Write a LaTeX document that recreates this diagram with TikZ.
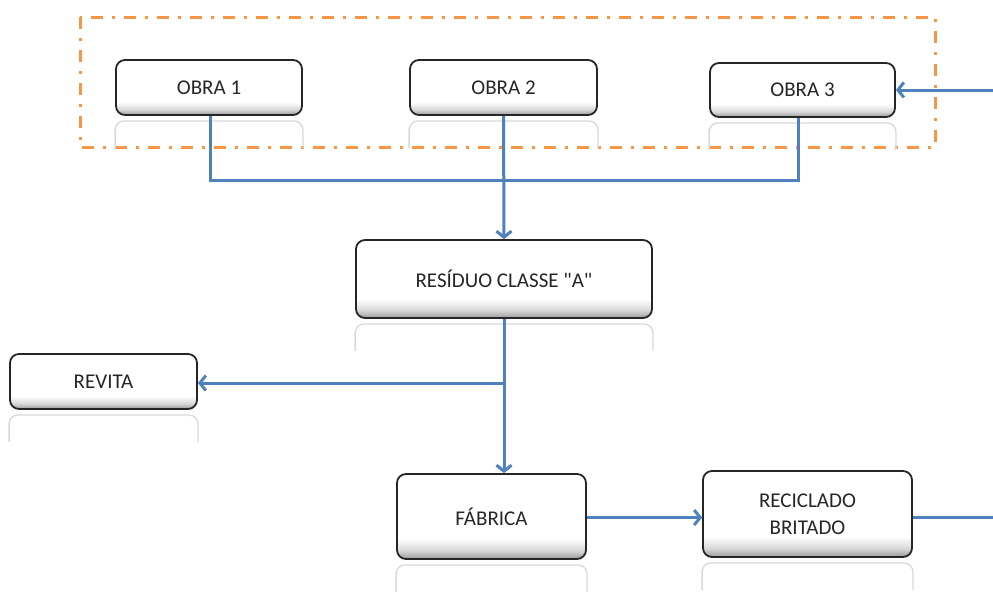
\documentclass[tikz,border=0pt]{standalone}
\usepackage{fontspec}
\setmainfont{Carlito}[Ligatures=TeXOff]
\usetikzlibrary{arrows.meta,calc}
\definecolor{lineblue}{HTML}{4F81BD}
\definecolor{dashorange}{HTML}{F79646}
\pgfdeclareverticalshading{boxshade}{100bp}{color(0bp)=(black!40); color(25bp)=(black!40); color(30bp)=(black!15); color(37bp)=(white); color(100bp)=(white)}
\tikzset{
  box/.style={draw=black!85, line width=1.8pt, rounded corners=9pt,
    shading=boxshade,
    align=center, font=\fontsize{21}{25}\selectfont, text=black!85,
    inner sep=0pt},
  conn/.style={draw=lineblue, line width=3pt},
  arr/.style={conn, -{Straight Barb[length=6pt,width=15pt]}},
  refl/.style={draw=black!15, line width=1.3pt},
  grp/.style={draw=dashorange, line width=3pt, dash pattern=on 12pt off 9pt on 3pt off 9pt}
}
\newcommand{\reflect}[1]{%
  \draw[refl] ($(#1.south west)+(0,32)$) -- ($(#1.south west)+(0,14)$)
    arc[start angle=180,end angle=270,radius=9] -- ($(#1.south east)+(-9,5)$)
    arc[start angle=270,end angle=360,radius=9] -- ($(#1.south east)+(0,32)$);}
\begin{document}
\begin{tikzpicture}[x=1pt,y=-1pt]
\useasboundingbox (0,0) rectangle (993,605);
\fill[white] (0,0) rectangle (993,605);
% group frame
\draw[grp] (80,17) rectangle (935,147);
% nodes
\node[box, minimum width=186, minimum height=55] (o1) at (209,87.5) {OBRA 1};
\node[box, minimum width=187, minimum height=55] (o2) at (503.5,87.5) {OBRA 2};
\node[box, minimum width=185, minimum height=54] (o3) at (802.5,90) {OBRA 3};
\node[box, minimum width=296, minimum height=78] (res) at (504,279) {RESÍDUO CLASSE "A"};
\node[box, minimum width=187, minimum height=55] (rev) at (103.5,381.5) {REVITA};
\node[box, minimum width=189, minimum height=85] (fab) at (491.5,516.5) {FÁBRICA};
\node[box, minimum width=209, minimum height=86] (rec) at (807.5,514) {RECICLADO\\[2pt]BRITADO};
% reflections
\reflect{o1}\reflect{o2}\reflect{o3}\reflect{res}\reflect{rev}\reflect{fab}\reflect{rec}
% helper coordinates
\coordinate (bus) at (0,180);
\coordinate (edgeR) at (993,0);
% connectors
\draw[conn] ([xshift=1pt]o1.south) -- ([xshift=1pt]o1.south |- bus) -- ([xshift=-4pt]o3.south |- bus) -- ([xshift=-4pt]o3.south);
\draw[arr] (o2.south) -- (res.north);
\draw[arr] (res.south) -- (res.south |- fab.north);
\coordinate (br) at ($(res.south |- rev.east)+(0,1.5)$);
\draw[arr] (br) -- ($(rev.east)+(0,1.5)$);
\draw[arr] ($(fab.east)+(0,1)$) -- ($(fab.east -| rec.west)+(0,1)$);
\coordinate (outR) at ($(rec.east -| edgeR)+(0,3)$);
\draw[conn] ($(rec.east)+(0,3)$) -- (outR);
\coordinate (inR) at (o3.east -| edgeR);
\draw[arr] (inR) -- (o3.east);
\end{tikzpicture}
\end{document}
